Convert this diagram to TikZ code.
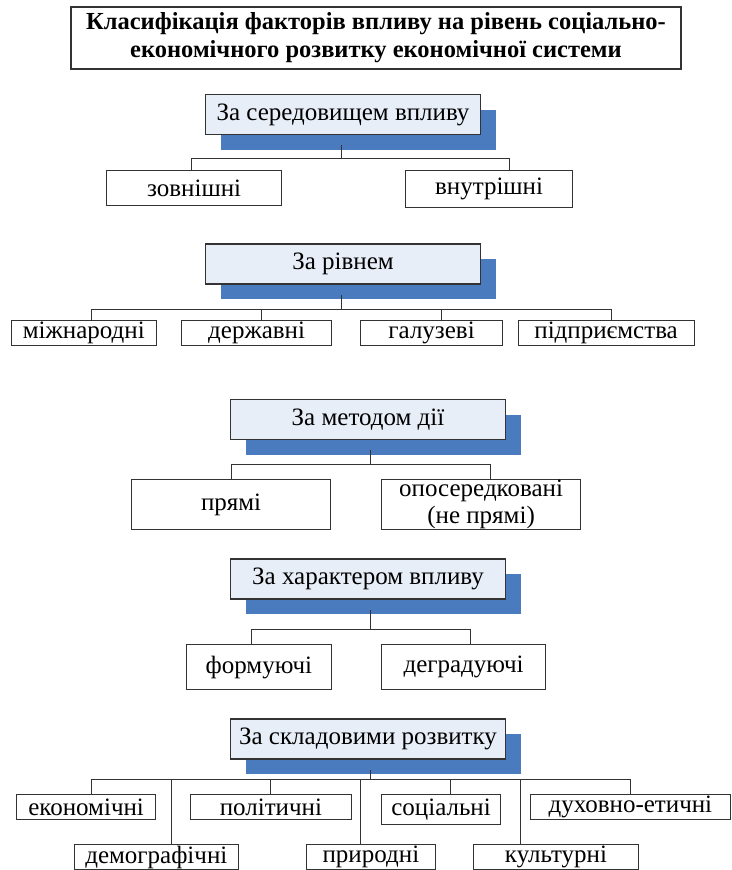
\documentclass[tikz,border=0pt]{standalone}
\usepackage{fontspec}
\setmainfont{Liberation Serif}
\usepackage{xcolor}
\usetikzlibrary{shadows}

\definecolor{boxblue}{HTML}{E8EEF8}
\definecolor{shadowblue}{HTML}{4A7BBF}
\definecolor{linegray}{HTML}{333333}

\begin{document}
\begin{tikzpicture}[
    x=1pt, y=-1pt,
    heading/.style={rectangle, draw=linegray, line width=1.5pt, align=center, minimum width=610pt, minimum height=62pt, inner sep=0pt, font=\bfseries\fontsize{24.5}{28}\selectfont},
    category/.style={rectangle, draw=linegray, line width=1.2pt, fill=boxblue, minimum width=275pt, minimum height=40pt, inner sep=0pt, font=\fontsize{25}{28}\selectfont,
        drop shadow={shadow xshift=15pt, shadow yshift=-15pt, fill=shadowblue, opacity=1, draw=none}},
    leaf/.style 2 args={rectangle, draw=linegray, line width=1.2pt, fill=white, minimum width=#1, minimum height=#2, inner sep=0pt, anchor=north west, align=center, font=\fontsize{25}{27}\selectfont},
    link/.style={draw=linegray, line width=0.9pt}
]
\useasboundingbox (0,0) rectangle (731,870);

% Title
\node[heading] (title) at (376,38) {Класифікація факторів впливу на рівень соціально-\\економічного розвитку економічної системи};

% Category boxes (vertical stack)
\node[category] (env) at (343,114.5) {За середовищем впливу};
\node[category] (lvl) at (343,264) {За рівнем};
\node[category] (mth) at (368,419.5) {За методом дії};
\node[category] (chr) at (368,579) {За характером впливу};
\node[category] (cmp) at (368,739) {За складовими розвитку};

% Bus points
\coordinate (benv) at (341,158);
\coordinate (blvl) at (341,309);
\coordinate (bmth) at (370.6,464.7);
\coordinate (bchr) at (370.6,629);
\coordinate (bcmp) at (370.6,779);

% Leaves
\node[leaf={175pt}{35pt}] (ext) at (106,170) {зовнішні};
\node[leaf={167pt}{37pt}] (int) at (405,170) {внутрішні};

\node[leaf={145pt}{25pt}] (intl) at (10.7,319.5) {міжнародні};
\node[leaf={150pt}{25pt}] (state) at (181,319.5) {державні};
\node[leaf={142pt}{25pt}] (branch) at (360,319.5) {галузеві};
\node[leaf={176pt}{25pt}] (firm) at (517.5,319.5) {підприємства};

\node[leaf={199pt}{50pt}] (direct) at (131,479) {прямі};
\node[leaf={199pt}{50pt}] (indirect) at (381,479) {опосередковані\\(не прямі)};

\node[leaf={145.5pt}{45pt}] (form) at (185.5,644) {формуючі};
\node[leaf={164pt}{45pt}] (degr) at (381,644) {деградуючі};

\node[leaf={139pt}{25pt}] (econ) at (16,794) {економічні};
\node[leaf={160.6pt}{25pt}] (pol) at (190,794) {політичні};
\node[leaf={119pt}{30pt}] (soc) at (381,794) {соціальні};
\node[leaf={199.6pt}{25pt}] (spir) at (530,794) {духовно-етичні};
\node[leaf={164pt}{25pt}] (demo) at (73.7,844) {демографічні};
\node[leaf={129pt}{25pt}] (nat) at (305.8,844) {природні};
\node[leaf={164.8pt}{25pt}] (cult) at (473,844) {культурні};

% Trunks
\draw[link] (benv |- env.south) ++(0,10) -- (benv);
\draw[link] (blvl |- lvl.south) ++(0,10) -- (blvl);
\draw[link] (bmth |- mth.south) ++(0,10) -- (bmth);
\draw[link] (bchr |- chr.south) ++(0,10) -- (bchr);
\draw[link] (bcmp |- cmp.south) ++(0,10) -- (bcmp);

% Branches
\draw[link] (benv) -| ([xshift=-2.5pt]ext.north);
\draw[link] (benv) -| ([xshift=20.5pt]int.north);

\draw[link] (blvl) -| ([xshift=8pt]intl.north);
\draw[link] (blvl) -| ([xshift=5pt]state.north);
\draw[link] (blvl) -| ([xshift=10pt]branch.north);
\draw[link] (blvl) -| ([xshift=5.5pt]firm.north);

\draw[link] (bmth) -| (direct.north);
\draw[link] (bmth) -| ([xshift=9.5pt]indirect.north);

\draw[link] (bchr) -| ([xshift=-7pt]form.north);
\draw[link] (bchr) -| ([xshift=7pt]degr.north);

\draw[link] (bcmp) -| ([xshift=5.5pt]econ.north);
\draw[link] (bcmp) -| ([xshift=15.3pt]demo.north);
\draw[link] (bcmp) -| (pol.north);
\draw[link] (bcmp) -| ([xshift=-10pt]nat.north);
\draw[link] (bcmp) -| ([xshift=9.5pt]soc.north);
\draw[link] (bcmp) -| ([xshift=-35.4pt]cult.north);
\draw[link] (bcmp) -| (spir.north);

\end{tikzpicture}
\end{document}
